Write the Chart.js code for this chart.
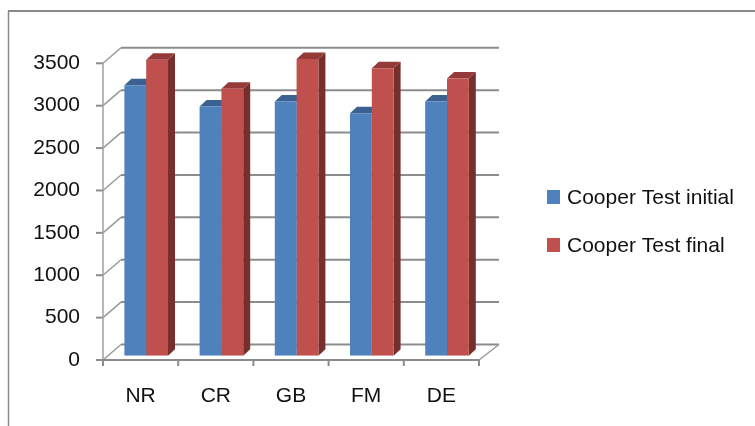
<!DOCTYPE html>
<html>
<head>
<meta charset="utf-8">
<script src="https://cdn.jsdelivr.net/npm/chart.js@4/dist/chart.umd.min.js"></script>
<style>
  html, body { margin: 0; padding: 0; background: #fff; }
  canvas { display: block; }
</style>
</head>
<body>
<canvas id="c" width="755" height="426"></canvas>
<script>
// Cooper test distances (metres) per group
const categories = ['NR', 'CR', 'GB', 'FM', 'DE'];
const initialValues = [3190, 2940, 3000, 2860, 3000];
const finalValues = [3490, 3150, 3500, 3390, 3270];
const seriesNames = ['Cooper Test initial', 'Cooper Test final'];
const yTicks = [0, 500, 1000, 1500, 2000, 2500, 3000, 3500];

const FONT = '21px "Liberation Sans", Arial, sans-serif';
const GRID = '#8c8c8c';
// offsets of the front plane and back wall relative to the bar plane (pseudo 3D)
const FRONT = { dx: -5.6, dy: 4.3 };
const BACK = { dx: 14.4, dy: -11.2 };
const BAR_DEPTH = { dx: 7, dy: -6.5 };
const SHADES = [
  { top: '#3A6190', side: '#2F4F75' },
  { top: '#943B39', side: '#772F2E' }
];

function line(ctx, x1, y1, x2, y2, w, c) {
  ctx.save();
  ctx.beginPath();
  ctx.moveTo(x1, y1);
  ctx.lineTo(x2, y2);
  ctx.lineWidth = w;
  ctx.strokeStyle = c;
  ctx.stroke();
  ctx.restore();
}

function poly(ctx, pts, fill) {
  ctx.beginPath();
  ctx.moveTo(pts[0][0], pts[0][1]);
  for (let i = 1; i < pts.length; i++) ctx.lineTo(pts[i][0], pts[i][1]);
  ctx.closePath();
  ctx.fillStyle = fill;
  ctx.fill();
}

const framePlugin = {
  id: 'frame',
  beforeDraw(chart) {
    const ctx = chart.ctx;
    ctx.save();
    ctx.fillStyle = '#fff';
    ctx.fillRect(0, 0, chart.width, chart.height);
    ctx.restore();
    line(ctx, 8.5, chart.height, 8.5, 11, 1.5, '#8a8a8a');
    line(ctx, 8, 11, chart.width, 11, 2, '#8a8a8a');
  }
};

const wallsPlugin = {
  id: 'walls',
  beforeDatasetsDraw(chart) {
    const { ctx, chartArea: ca } = chart;
    const x = chart.scales.x, y = chart.scales.y;
    const fl = ca.left + FRONT.dx, fr = ca.right + FRONT.dx;
    const bl = ca.left + BACK.dx, br = ca.right + BACK.dx;

    ctx.save();
    ctx.font = FONT;
    ctx.fillStyle = '#111';
    ctx.textAlign = 'right';
    ctx.textBaseline = 'middle';
    yTicks.forEach(v => {
      const py = y.getPixelForValue(v);
      const fy = py + FRONT.dy, by = py + BACK.dy;
      line(ctx, bl - 2, by, br, by, 2, GRID);
      line(ctx, fl, fy, bl - 2, by, 1.5, '#9a9a9a');
      line(ctx, fl - 7, fy, fl, fy, 2, GRID);
      ctx.fillText(String(v), fl - 23, fy);
    });
    ctx.restore();

    const topF = y.getPixelForValue(yTicks[yTicks.length - 1]) + FRONT.dy;
    const zeroF = y.getPixelForValue(0) + FRONT.dy;
    const zeroB = y.getPixelForValue(0) + BACK.dy;
    // front axis and floor edges
    line(ctx, fl, topF, fl, zeroF, 1.5, '#a0a0a0');
    line(ctx, fl - 7, zeroF, fr + 1, zeroF, 2, GRID);
    line(ctx, fr, zeroF, br, zeroB, 1.5, '#9a9a9a');

    // category ticks and labels on the front edge
    const slot = (x.right - x.left) / categories.length;
    ctx.save();
    ctx.font = FONT;
    ctx.fillStyle = '#111';
    ctx.textAlign = 'center';
    ctx.textBaseline = 'middle';
    for (let i = 0; i <= categories.length; i++) {
      const tx = x.left + i * slot + FRONT.dx;
      line(ctx, tx, zeroF, tx, zeroF + 6, 2, GRID);
    }
    categories.forEach((c, i) => {
      ctx.fillText(c, x.getPixelForValue(i) + FRONT.dx, zeroF + 36);
    });
    ctx.restore();

    // top and side faces of the columns
    chart.data.datasets.forEach((ds, di) => {
      const meta = chart.getDatasetMeta(di);
      meta.data.forEach(el => {
        const p = el.getProps(['x', 'y', 'base', 'width'], true);
        const l = p.x - p.width / 2, r = p.x + p.width / 2;
        const t = p.y, b = p.base;
        const dx = BAR_DEPTH.dx, dy = BAR_DEPTH.dy;
        poly(ctx, [[r, t], [r + dx, t + dy], [r + dx, b + dy], [r, b]], SHADES[di].side);
        poly(ctx, [[l, t], [l + dx, t + dy], [r + dx, t + dy], [r, t]], SHADES[di].top);
      });
    });
  }
};

const legendPlugin = {
  id: 'sideLegend',
  afterDraw(chart) {
    const ctx = chart.ctx;
    ctx.save();
    ctx.font = FONT;
    ctx.textAlign = 'left';
    ctx.textBaseline = 'middle';
    chart.data.datasets.forEach((ds, i) => {
      const cy = 197 + i * 48;
      ctx.fillStyle = ds.backgroundColor;
      ctx.fillRect(547, cy - 7, 13, 14);
      ctx.fillStyle = '#111';
      ctx.fillText(ds.label, 567, cy + 1);
    });
    ctx.restore();
  }
};

new Chart(document.getElementById('c'), {
  type: 'bar',
  data: {
    labels: categories,
    datasets: [
      { label: seriesNames[0], data: initialValues, backgroundColor: '#4F81BD' },
      { label: seriesNames[1], data: finalValues, backgroundColor: '#C0504D' }
    ]
  },
  options: {
    responsive: false,
    animation: false,
    events: [],
    layout: { padding: { left: 108.6, top: 59, right: 270.4, bottom: 70.3 } },
    datasets: { bar: { categoryPercentage: 0.58, barPercentage: 1.0, borderWidth: 0 } },
    scales: {
      x: { display: false, grid: { display: false } },
      y: { display: false, min: 0, max: 3500, ticks: { stepSize: 500 } }
    },
    plugins: { legend: { display: false }, tooltip: { enabled: false } }
  },
  plugins: [framePlugin, wallsPlugin, legendPlugin]
});
</script>
</body>
</html>
